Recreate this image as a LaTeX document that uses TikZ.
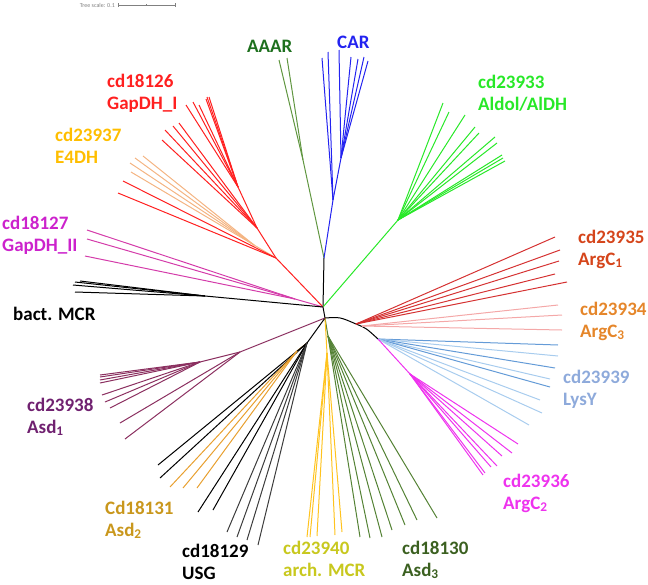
\documentclass[tikz,border=0pt]{standalone}
\usepackage{fontspec}
\setmainfont{Carlito}
\definecolor{aaarlab}{RGB}{30,112,30}
\definecolor{aaarline}{RGB}{96,150,64}
\definecolor{carcol}{RGB}{35,35,240}
\definecolor{aldolcol}{RGB}{40,232,40}
\definecolor{gapIcol}{RGB}{255,32,32}
\definecolor{efourlab}{RGB}{255,190,0}
\definecolor{efourline}{RGB}{244,180,130}
\definecolor{gapIIlab}{RGB}{204,34,204}
\definecolor{gapIIline}{RGB}{212,60,170}
\definecolor{argIlab}{RGB}{213,69,27}
\definecolor{argIline}{RGB}{213,50,50}
\definecolor{argIIIlab}{RGB}{229,134,42}
\definecolor{argIIIline}{RGB}{244,168,168}
\definecolor{lysylab}{RGB}{142,170,219}
\definecolor{lysyline}{RGB}{100,155,215}
\definecolor{lysylight}{RGB}{168,204,238}
\definecolor{argIIcol}{RGB}{238,51,238}
\definecolor{asdIIIlab}{RGB}{59,96,32}
\definecolor{asdIIIline}{RGB}{84,130,53}
\definecolor{archlab}{RGB}{200,200,30}
\definecolor{archline}{RGB}{255,195,31}
\definecolor{asdIIlab}{RGB}{201,151,28}
\definecolor{asdIIline}{RGB}{232,160,48}
\definecolor{asdIlab}{RGB}{112,33,112}
\definecolor{asdIline}{RGB}{139,48,96}
\definecolor{usgline}{RGB}{60,60,60}
\begin{document}
\begin{tikzpicture}[x=1pt,y=-1pt,
    br/.style={line width=1pt},
    lab/.style={font=\fontsize{19}{22}\selectfont\bfseries, align=left, anchor=base west, inner sep=0pt}]
      \useasboundingbox (0,0) rectangle (648,584);
      % scale bar
      \node[font=\fontsize{6}{7}\selectfont, text=gray, anchor=east, inner sep=0pt] (scaletxt) at (115,5) {Tree scale: 0.1};
      \coordinate (sbl) at (118,5);
      \coordinate (sbr) at (175,5);
      \draw[gray, line width=0.5pt] (sbl) -- (sbr);
      \draw[gray, line width=0.5pt] (118,3) -- (118,7) (146.5,4) -- (146.5,6) (175,3) -- (175,7);
      % backbone
      \coordinate (top) at (324,258);
      \coordinate (up) at (323,307);
      \coordinate (low) at (325,318);
      \draw[br] (top) -- (up) -- (low);
      % AAAR
      \coordinate (aaar) at (303,160);
      \draw[br,aaarline] (top) -- (aaar);
      \foreach \x/\y [count=\i] in {279/60, 287/58}{
        \coordinate (aaar-\i) at (\x,\y);
        \draw[br,aaarline] (aaar) -- (aaar-\i);
      }
      % CAR
      \coordinate (car) at (333,200);
      \coordinate (carb) at (341,158);
      \draw[br,carcol] (top) -- (car) -- (carb);
      \foreach \x/\y [count=\i] in {322/58, 328/52}{
        \coordinate (car-\i) at (\x,\y);
        \draw[br,carcol] (car) -- (car-\i);
      }
      \foreach \x/\y [count=\i] in {339/50, 351/57, 358/59, 364/57, 368/61}{
        \coordinate (carb-\i) at (\x,\y);
        \draw[br,carcol] (carb) -- (carb-\i);
      }
      % Aldol/AlDH
      \coordinate (aldol) at (398,220);
      \draw[br,aldolcol] (up) -- (aldol);
      \foreach \x/\y [count=\i] in {443/103, 449/112, 465/115, 475/127, 479/133,
        495/137, 497/143, 502/155, 503/158, 505/161}{
        \coordinate (aldol-\i) at (\x,\y);
        \draw[br,aldolcol] (aldol) -- (aldol-\i);
      }
      % GapDH_I and E4DH
      \coordinate (gap) at (276,258);
      \coordinate (gapa) at (257,228);
      \coordinate (gapb) at (238,187);
      \coordinate (efour) at (254,245);
      \draw[br,gapIcol] (up) -- (gap) -- (gapa) -- (gapb);
      \draw[br,efourline] (gap) -- (efour);
      \foreach \x/\y [count=\i] in {186/105, 193/102, 199/105, 206/99, 207/97, 209/97}{
        \coordinate (gapb-\i) at (\x,\y);
        \draw[br,gapIcol] (gapb) -- (gapb-\i);
      }
      \foreach \x/\y [count=\i] in {162/140, 165/130, 173/126, 179/123}{
        \coordinate (gapa-\i) at (\x,\y);
        \draw[br,gapIcol] (gapa) -- (gapa-\i);
      }
      \foreach \x/\y [count=\i] in {123/181, 118/193}{
        \coordinate (gap-\i) at (\x,\y);
        \draw[br,gapIcol] (gap) -- (gap-\i);
      }
      \foreach \x/\y [count=\i] in {130/163, 135/158, 143/156, 131/172}{
        \coordinate (efour-\i) at (\x,\y);
        \draw[br,efourline] (efour) -- (efour-\i);
      }
      % GapDH_II
      \coordinate (gapII) at (295,299);
      \draw[br,gapIIline] (up) -- (gapII);
      \foreach \x/\y [count=\i] in {87/230, 87/239, 85/256}{
        \coordinate (gapII-\i) at (\x,\y);
        \draw[br,gapIIline] (gapII) -- (gapII-\i);
      }
      % bact. MCR
      \coordinate (bmcr) at (205,296);
      \draw[br] (up) -- (bmcr);
      \foreach \x/\y [count=\i] in {73/285, 75/282, 80/281, 75/292}{
        \coordinate (bmcr-\i) at (\x,\y);
        \draw[br] (bmcr) -- (bmcr-\i);
      }
      % right arm
      \coordinate (arg) at (356,324);
      \coordinate (lys) at (378,339);
      \draw[br] (low) .. controls (340,317) .. (arg) .. controls (366,328) .. (lys);
      \foreach \x/\y [count=\i] in {555/237, 560/250, 559/261, 555/274, 567/282}{
        \coordinate (argI-\i) at (\x,\y);
        \draw[br,argIline] (arg) -- (argI-\i);
      }
      \coordinate (argIII) at (362,326);
      \foreach \x/\y [count=\i] in {558/305, 562/315, 562/330}{
        \coordinate (argIII-\i) at (\x,\y);
        \draw[br,argIIIline] (argIII) -- (argIII-\i);
      }
      \foreach \x/\y/\c [count=\i] in {558/345/lysyline, 558/356/lysylight, 555/368/lysyline,
        550/379/lysylight, 550/387/lysyline, 540/400/lysylight, 542/413/lysylight, 529/425/lysylight}{
        \coordinate (lys-\i) at (\x,\y);
        \draw[br,\c] (lys) -- (lys-\i);
      }
      \coordinate (argII) at (410,374);
      \draw[br,argIIcol] (lys) -- (argII);
      \foreach \x/\y [count=\i] in {518/444, 512/453, 502/456, 497/466, 491/467, 485/473, 483/475}{
        \coordinate (argII-\i) at (\x,\y);
        \draw[br,argIIcol] (argII) -- (argII-\i);
      }
      % Asd3
      \coordinate (asdIII) at (328,336);
      \draw[br,asdIIIline] (low) -- (asdIII);
      \foreach \x/\y [count=\i] in {437/518, 417/520, 405/525, 392/530, 382/537, 370/538, 360/537}{
        \coordinate (asdIII-\i) at (\x,\y);
        \draw[br,asdIIIline] (asdIII) -- (asdIII-\i);
      }
      % arch. MCR
      \coordinate (amcr) at (327,353);
      \draw[br,archline] (low) -- (amcr);
      \foreach \x/\y [count=\i] in {307/537, 310/537, 317/536, 335/535, 342/532}{
        \coordinate (amcr-\i) at (\x,\y);
        \draw[br,archline] (amcr) -- (amcr-\i);
      }
      % USG and Asd2
      \coordinate (usg) at (307,343);
      \coordinate (asdII) at (297,351);
      \draw[br] (low) -- (usg);
      \draw[br,asdIIline] (usg) -- (asdII);
      \foreach \x/\y/\c [count=\i] in {158/465/black, 160/478/black, 198/512/black, 213/510/black,
        227/532/usgline, 237/537/usgline, 247/540/usgline, 258/545/usgline}{
        \coordinate (usg-\i) at (\x,\y);
        \draw[br,\c] (usg) -- (usg-\i);
      }
      \foreach \x/\y [count=\i] in {170/487, 183/488, 197/488}{
        \coordinate (asdII-\i) at (\x,\y);
        \draw[br,asdIIline] (asdII) -- (asdII-\i);
      }
      % Asd1
      \coordinate (asdI) at (240,352);
      \coordinate (asdIb) at (200,362);
      \draw[br,asdIline] (low) -- (asdI) -- (asdIb);
      \foreach \x/\y [count=\i] in {100/375, 100/377, 100/380, 100/383, 102/395, 105/402, 110/408}{
        \coordinate (asdIb-\i) at (\x,\y);
        \draw[br,asdIline] (asdIb) -- (asdIb-\i);
      }
      \foreach \x/\y [count=\i] in {120/423, 125/439}{
        \coordinate (asdI-\i) at (\x,\y);
        \draw[br,asdIline] (asdI) -- (asdI-\i);
      }
      % labels (base = second line)
      \node[lab, text=aaarlab] (laaar) at (247,52) {AAAR};
      \node[lab, text=carcol] (lcar) at (337,48) {CAR};
      \node[lab, text=aldolcol] (laldol) at (478,110) {cd23933\\Aldol/AlDH};
      \node[lab, text=gapIcol] (lgapI) at (107,109) {cd18126\\GapDH\_I};
      \node[lab, text=efourlab] (lefour) at (55,163) {cd23937\\E4DH};
      \node[lab, text=gapIIlab] (lgapII) at (2,251) {cd18127\\GapDH\_II};
      \node[lab, text=black] (lbmcr) at (13,320) {bact. MCR};
      \node[lab, text=argIlab] (largI) at (578,265) {cd23935\\ArgC\textsubscript{1}};
      \node[lab, text=argIIIlab] (largIII) at (580,337) {cd23934\\ArgC\textsubscript{3}};
      \node[lab, text=lysylab] (llys) at (563,405) {cd23939\\LysY};
      \node[lab, text=argIIcol] (largII) at (503,509) {cd23936\\ArgC\textsubscript{2}};
      \node[lab, text=asdIlab] (lasdI) at (27,433) {cd23938\\Asd\textsubscript{1}};
      \node[lab, text=asdIIlab] (lasdII) at (105,536) {Cd18131\\Asd\textsubscript{2}};
      \node[lab, text=black] (lusg) at (182,579) {cd18129\\USG};
      \node[lab, text=archlab] (lamcr) at (283,576) {cd23940\\arch. MCR};
      \node[lab, text=asdIIIlab] (lasdIII) at (402,576) {cd18130\\Asd\textsubscript{3}};
    \end{tikzpicture}
\end{document}
